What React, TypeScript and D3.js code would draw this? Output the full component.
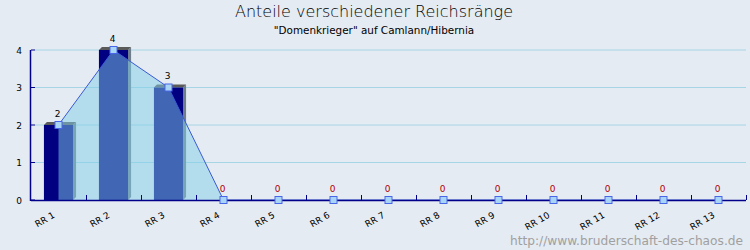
import React from "react";
import * as d3 from "d3";

const categories = ["RR 1", "RR 2", "RR 3", "RR 4", "RR 5", "RR 6", "RR 7", "RR 8", "RR 9", "RR 10", "RR 11", "RR 12", "RR 13"];
const values = [2, 4, 3, 0, 0, 0, 0, 0, 0, 0, 0, 0, 0];
const yTicks = [0, 1, 2, 3, 4];
const title = "Anteile verschiedener Reichsränge";
const subtitle = "\"Domenkrieger\" auf Camlann/Hibernia";
const footer = "http://www.bruderschaft-des-chaos.de";

const W = 750;
const H = 250;
const FONT = "'DejaVu Sans', Verdana, sans-serif";

export default function App() {
  const x = d3.scaleBand<string>().domain(categories).range([31, 746]).padding(0);
  const y = d3.scaleLinear().domain([0, 4]).range([200, 50]);
  const bw = x.bandwidth() * 0.53;
  const depth = 3;
  const cx = (c: string) => (x(c) as number) + x.bandwidth() / 2;

  const pts: [number, number][] = categories.map((c, i) => [cx(c), y(values[i])]);
  const area = d3.area<[number, number]>().x((d) => d[0]).y0(y(0)).y1((d) => d[1])(pts) as string;
  const line = d3.line<[number, number]>().x((d) => d[0]).y((d) => d[1])(pts) as string;

  return (
    <svg width={W} height={H} style={{ position: "fixed", left: 0, top: 0, display: "block" }} fontFamily={FONT}>
      <rect x={0} y={0} width={W} height={H} fill="#e5ebf2" />
      <text x={374} y={17} textAnchor="middle" fontSize={16} fontWeight={200} fill="#000">{title}</text>
      <text x={374} y={34} textAnchor="middle" fontSize={10.4} fill="#000">{subtitle}</text>

      {yTicks.filter((t) => t > 0).map((t) => (
        <line key={"g" + t} x1={35} x2={746} y1={y(t)} y2={y(t)} stroke="#a6d6e6" strokeWidth={1} />
      ))}

      {categories.map((c, i) => {
        const v = values[i];
        if (v <= 0) return null;
        const x0 = cx(c) - bw / 2;
        const x1 = x0 + bw;
        const yt = y(v);
        const yb = y(0);
        return (
          <g key={"b" + c}>
            <polygon points={`${x1},${yt} ${x1 + depth},${yt - depth} ${x1 + depth},${yb - depth} ${x1},${yb}`} fill="#6e7e8a" />
            <polygon points={`${x0},${yt} ${x0 + depth},${yt - depth} ${x1 + depth},${yt - depth} ${x1},${yt}`} fill="#5a5a5a" />
            <rect x={x0} y={yt} width={bw} height={yb - yt} fill="#000080" />
          </g>
        );
      })}

      <path d={area} fill="rgb(130,205,232)" fillOpacity={0.5} />
      <path d={line} fill="none" stroke="#3a5ad6" strokeWidth={1} />

      <line x1={31} x2={746} y1={200.5} y2={200.5} stroke="#00008b" strokeWidth={1.5} />
      <line x1={30.5} x2={30.5} y1={50} y2={201} stroke="#00008b" strokeWidth={1.5} />
      {yTicks.map((t) => (
        <g key={"yt" + t}>
          <line x1={31} x2={35} y1={y(t)} y2={y(t)} stroke="#00008b" strokeWidth={1} />
          <text x={22} y={y(t) + 3.5} textAnchor="end" fontSize={9} fill="#000">{t}</text>
        </g>
      ))}
      {categories.map((c) => (
        <line key={"xt" + c} x1={(x(c) as number) + x.bandwidth() + 0.5} x2={(x(c) as number) + x.bandwidth() + 0.5} y1={195} y2={200} stroke="#00008b" strokeWidth={1} />
      ))}

      {pts.map((p, i) => (
        <rect key={"m" + i} x={p[0] - 3.5} y={p[1] - 3.5} width={7} height={7} fill="#a8d4f6" stroke="#4a66e8" strokeWidth={1} />
      ))}

      {categories.map((c, i) => (
        <text key={"v" + c} x={cx(c) - 1} y={y(values[i]) - 8.5} textAnchor="middle" fontSize={9} fill={values[i] === 0 ? "#b00000" : "#000"}>{values[i]}</text>
      ))}

      {categories.map((c) => (
        <text key={"xl" + c} transform={`translate(${cx(c) - 3},${217}) rotate(-30)`} textAnchor="end" fontSize={9} fill="#000">{c}</text>
      ))}

      <text x={743} y={245} textAnchor="end" fontSize={12.2} fill="#a0a0a0">{footer}</text>
    </svg>
  );
}
